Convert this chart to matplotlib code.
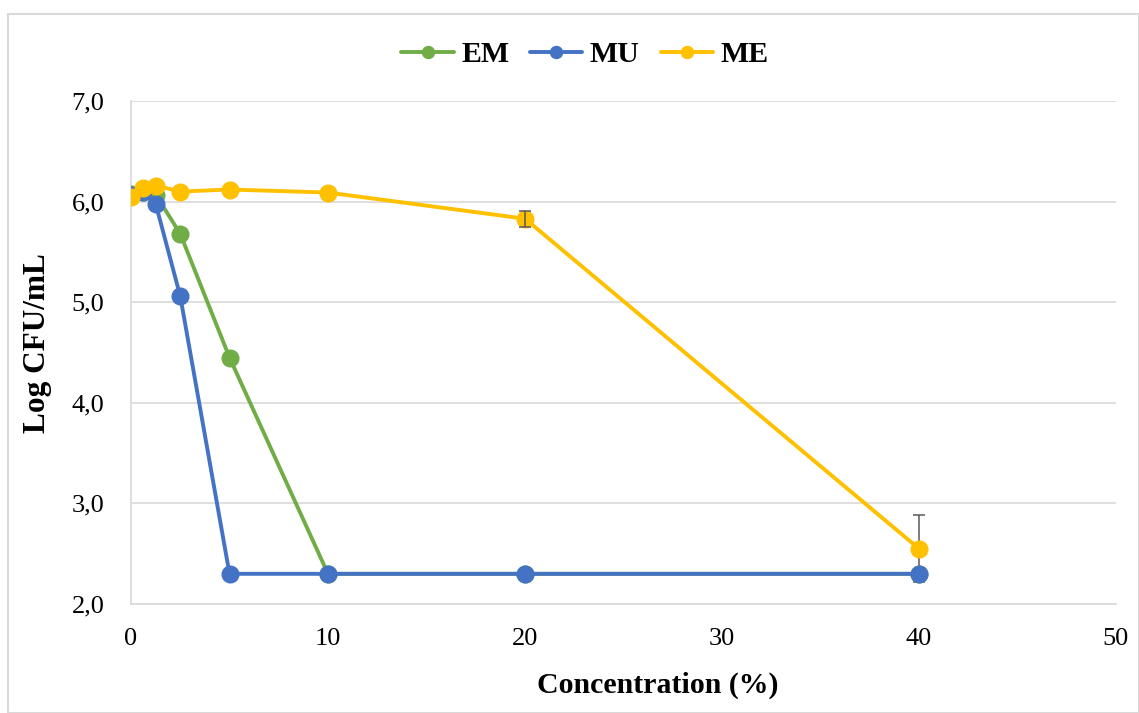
import matplotlib
matplotlib.use("Agg")
import matplotlib.pyplot as plt
from matplotlib.ticker import FuncFormatter
from matplotlib.patches import Rectangle

# concentrations (%)
conc = [0, 0.625, 1.25, 2.5, 5, 10, 20, 40]

em = [6.08, 6.10, 6.07, 5.68, 4.45, 2.30, 2.30, 2.30]
mu = [6.07, 6.10, 5.98, 5.06, 2.30, 2.30, 2.30, 2.30]
me = [6.05, 6.14, 6.16, 6.10, 6.12, 6.09, 5.83, 2.55]
me_err = [0, 0, 0, 0, 0, 0, 0.08, 0.33]

series_names = ["EM", "MU", "ME"]
colors = ["#70AD47", "#4472C4", "#FFC000"]

plt.rcParams["font.family"] = ["Liberation Serif", "DejaVu Serif"]

fig = plt.figure(figsize=(11.39, 7.13), dpi=100)
ax = fig.add_axes([131 / 1139, 1 - 604 / 713, (1116 - 131) / 1139, (604 - 101) / 713])

# chart area border
fig.patches.append(Rectangle((8 / 1139, 0), 1 - 8 / 1139, 1 - 14 / 713, transform=fig.transFigure,
                             fill=False, edgecolor="#D9D9D9", linewidth=1.5))

for ys, name, c in zip([em, mu, me], series_names, colors):
    ax.plot(conc, ys, color=c, lw=2.8, marker="o", markersize=12, label=name, zorder=3,
            solid_capstyle="round")

# only points that have an error bar; short one over the marker, long one behind
for x, y, e in zip(conc, me, me_err):
    if e <= 0:
        continue
    ax.errorbar([x], [y], yerr=[e], fmt="none", ecolor="#595959", elinewidth=1.1,
                capsize=4.5, capthick=1.1, zorder=4 if e < 0.2 else 2)

ax.set_xlim(0, 50)
ax.set_ylim(2.0, 7.0)
ax.set_xticks([0, 10, 20, 30, 40, 50])
ax.set_yticks([2, 3, 4, 5, 6, 7])
ax.yaxis.set_major_formatter(FuncFormatter(lambda v, p: f"{v:.1f}".replace(".", ",")))
ax.tick_params(labelsize=19, length=0)
ax.tick_params(axis="y", pad=19)
ax.tick_params(axis="x", pad=17)
ax.grid(axis="y", color="#D9D9D9", lw=1.2)
ax.set_axisbelow(True)
for s in ["top", "right"]:
    ax.spines[s].set_visible(False)
ax.spines["left"].set_color("#D9D9D9")
ax.spines["bottom"].set_color("#D9D9D9")
ax.spines["left"].set_linewidth(1.2)
ax.spines["bottom"].set_linewidth(1.2)

ax.set_xlabel("Concentration (%)", fontsize=21.5, fontweight="bold", labelpad=9)
ax.set_ylabel("Log CFU/mL", fontsize=22.5, fontweight="bold", labelpad=14)
ax.xaxis.set_label_coords(0.535, -0.135)
ax.yaxis.label.set_y(0.519)

leg = fig.legend(loc="center", bbox_to_anchor=(585 / 1139, 1 - 55 / 713), ncol=3, frameon=False,
                 prop={"size": 21.5, "weight": "bold"}, handlelength=1.75, columnspacing=0.7,
                 handletextpad=0.25, markerscale=0.72)

fig.savefig("out.png", dpi=100)
